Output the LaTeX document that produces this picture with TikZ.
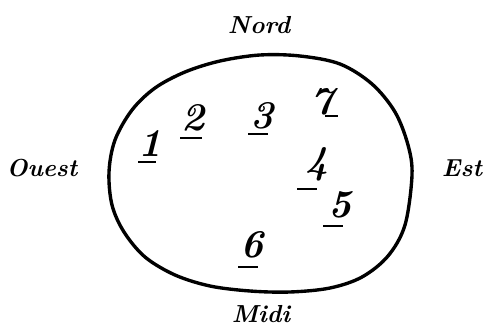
\documentclass[tikz,border=0pt]{standalone}
\begin{document}
\begin{tikzpicture}[
        x=0.025cm, y=-0.025cm,
        num/.style={
            font=\fontsize{28}{30}\selectfont\bfseries\itshape,
            inner sep=0pt
        },
        compass/.style={
            font=\fontsize{17.5}{20}\selectfont\bfseries\itshape,
            inner sep=0pt,
            anchor=base
        },
        bar/.style={
            line width=2pt
        },
        outline/.style={
            line width=2.4pt
        }
    ]

        \useasboundingbox (0,0) rectangle (484,327);

        % enclosure
        \draw[outline] plot[smooth cycle, tension=0.55] coordinates {
            (109,172) (115,140) (132,110) (155,88) (185,72) (220,61)
            (260,55) (300,56) (340,64) (372,84) (395,112) (408,145)
            (412,175) (405,225) (388,256) (362,277) (330,288) (290,292)
            (250,291) (210,286) (175,275) (145,257) (124,232) (112,205)};

        % cardinal points
        \node[compass] (nord) at (259,34) {Nord};
        \node[compass] (ouest) at (42,177) {Ouest};
        \node[compass] (est) at (462,177) {Est};
        \node[compass] (midi) at (261,322) {Midi};

        % numbers
        \node[num] (n1) at (150,143) {1};
        \node[num] (n2) at (193,118) {2};
        \node[num] (n3) at (262,116) {3};
        \node[num] (n7) at (322,102) {7};
        \node[num] (n4) at (317,164) {4};
        \node[num] (n5) at (340,205) {5};
        \node[num] (n6) at (252,245) {6};

        \draw[bar] ([shift={(-12,19)}]n1.center) -- ++(18,0);
        \draw[bar] ([shift={(-13,20)}]n2.center) -- ++(22,0);
        \draw[bar] ([shift={(-14,18)}]n3.center) -- ++(20,0);
        \draw[bar] ([shift={(3,14)}]n7.center) -- ++(13,0);
        \draw[bar] ([shift={(-20,25)}]n4.center) -- ++(20,0);
        \draw[bar] ([shift={(-17,21)}]n5.center) -- ++(20,0);
        \draw[bar] ([shift={(-14,22)}]n6.center) -- ++(20,0);

    \end{tikzpicture}
\end{document}
